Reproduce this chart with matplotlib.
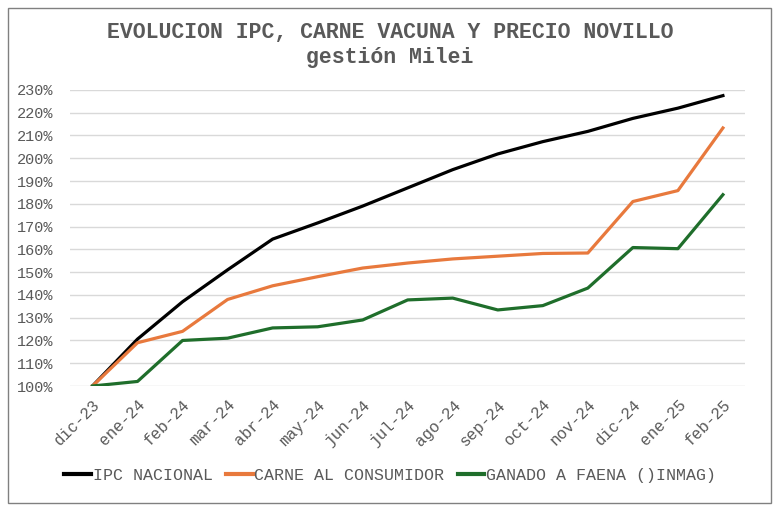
import matplotlib.pyplot as plt
from matplotlib.patches import Rectangle
from matplotlib.ticker import FuncFormatter

months = ['dic-23', 'ene-24', 'feb-24', 'mar-24', 'abr-24', 'may-24', 'jun-24', 'jul-24',
          'ago-24', 'sep-24', 'oct-24', 'nov-24', 'dic-24', 'ene-25', 'feb-25']
ipc = [100, 120.6, 137, 151, 164.5, 171.6, 179, 187, 195, 201.9, 207.3, 211.8, 217.5, 222, 227.5]
carne = [100, 119, 124, 138, 144, 148, 151.8, 154, 155.8, 157, 158.2, 158.4, 181, 185.8, 213.3]
ganado = [100, 102, 120, 121, 125.5, 126, 129, 137.8, 138.6, 133.4, 135.3, 143, 160.8, 160.3, 184]

font = 'Liberation Mono'
gray = '#595959'

fig = plt.figure(figsize=(7.8, 5.11), dpi=100)
ax = fig.add_axes([0.0897, 0.2446, 0.866, 0.5794])

x = range(len(months))
ax.plot(x, ipc, color='black', lw=2.3, label='IPC NACIONAL')
ax.plot(x, carne, color='#E8793D', lw=2.3, label='CARNE AL CONSUMIDOR')
ax.plot(x, ganado, color='#1F6E2B', lw=2.3, label='GANADO A FAENA ()INMAG)')

ax.set_xlim(-0.5, len(months) - 0.5)
ax.set_ylim(100, 230)
ax.set_yticks(range(100, 231, 10))
ax.yaxis.set_major_formatter(FuncFormatter(lambda v, p: f'{v:.0f}%'))
ax.set_xticks(list(x))
ax.set_xticklabels(months, rotation=45, ha='right', rotation_mode='anchor')
ax.grid(axis='y', color='#D9D9D9', lw=1)
ax.set_axisbelow(True)
for s in ax.spines.values():
    s.set_visible(False)
ax.tick_params(length=0, labelcolor=gray, labelsize=11)
ax.tick_params(axis='y', pad=12)
ax.tick_params(axis='x', pad=8, labelsize=11.5)
for t in ax.get_xticklabels() + ax.get_yticklabels():
    t.set_fontfamily(font)

fig.text(0.5, 0.937, 'EVOLUCION IPC, CARNE VACUNA Y PRECIO NOVILLO', ha='center', va='center',
         fontsize=15.5, fontweight='bold', family=font, color=gray)
fig.text(0.5, 0.888, 'gestión Milei', ha='center', va='center',
         fontsize=15.5, fontweight='bold', family=font, color=gray)

leg = fig.legend(loc='center', bbox_to_anchor=(0.5, 0.07), ncol=3, frameon=False,
                 prop={'family': font, 'size': 12}, handlelength=1.6, handletextpad=0.1,
                 columnspacing=0.8)
for t in leg.get_texts():
    t.set_color(gray)
for h in leg.legend_handles:
    h.set_linewidth(3)

fig.patches.append(Rectangle((8 / 780, 8 / 511), 763 / 780, 495 / 511, transform=fig.transFigure,
                             fill=False, edgecolor='#808080', lw=1))

fig.savefig('out.png', dpi=100)
